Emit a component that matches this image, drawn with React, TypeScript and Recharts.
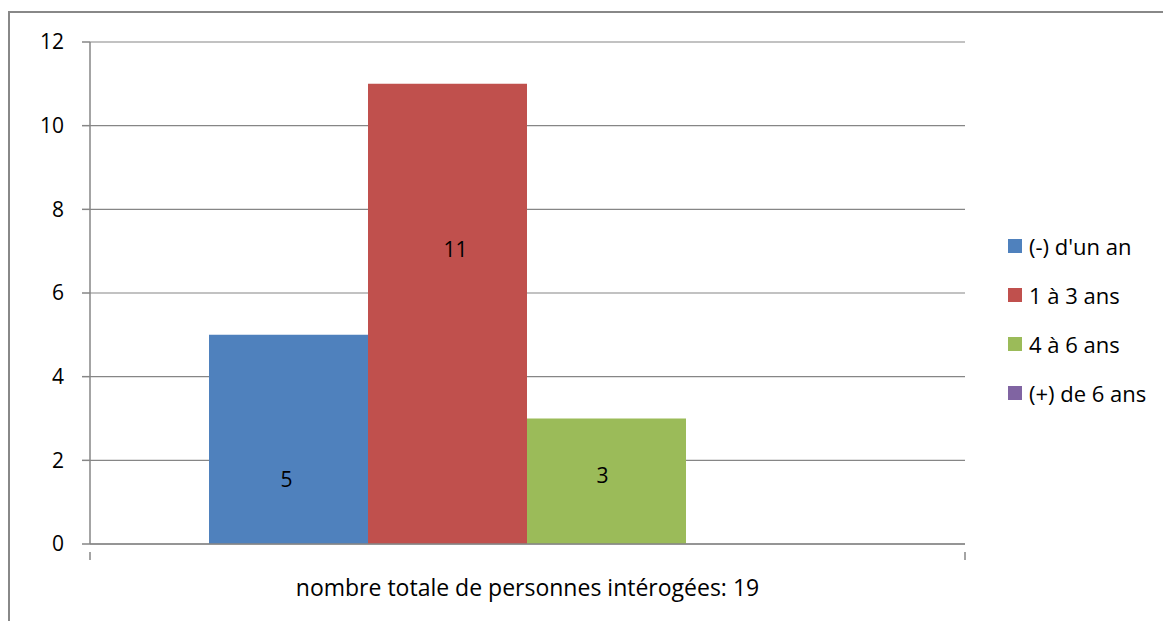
import { BarChart, Bar, XAxis, YAxis, CartesianGrid, LabelList } from "recharts";

// values
const categories = ["nombre totale de personnes intérogées: 19"];
const seriesNames = ["(-) d'un an", "1 à 3 ans", "4 à 6 ans", "(+) de 6 ans"];
const seriesValues = [5, 11, 3, 0];
const colors = ["#4F81BD", "#C0504D", "#9BBB59", "#8064A2"];
const yTicks = [0, 2, 4, 6, 8, 10, 12];

// small nudges so the value labels sit where Excel put them
const labelShift = [
  { dx: -2, dy: 40 },
  { dx: 8, dy: -64 },
  { dx: -4, dy: -6 },
  { dx: 0, dy: 0 },
];

const keys = seriesNames.map((_, i) => "s" + i);
const data = categories.map((name) => {
  const row: Record<string, string | number> = { name };
  keys.forEach((k, i) => (row[k] = seriesValues[i]));
  return row;
});

const FONT = "'Open Sans', Lato, sans-serif";
const FS = 21;
const FS_TEXT = 23;
const PLOT_W = 875;
const GRAY = "#868686";

const XTick = (props: any) => {
  const { x, y, payload } = props;
  return (
    <g>
      <line x1={x - PLOT_W / 2} x2={x - PLOT_W / 2} y1={y} y2={y + 8} stroke={GRAY} strokeWidth={1.5} />
      <line x1={x + PLOT_W / 2} x2={x + PLOT_W / 2} y1={y} y2={y + 8} stroke={GRAY} strokeWidth={1.5} />
      <text x={x} y={y + 44} textAnchor="middle" fontSize={FS_TEXT} fill="#000" fontFamily={FONT}>
        {payload.value}
      </text>
    </g>
  );
};

export default function App() {
  return (
    <div style={{ position: "relative", width: 1163, height: 613 }}>
      <div style={{ position: "absolute", left: 0, top: 0 }}>
        <BarChart
          width={1163}
          height={613}
          data={data}
          margin={{ top: 34, right: 206, left: 22, bottom: 69 }}
          barCategoryGap={119}
          barGap={0}
        >
          <CartesianGrid vertical={false} stroke={GRAY} strokeWidth={1.2} />
          <XAxis
            dataKey="name"
            tick={<XTick />}
            tickLine={false}
            height={8}
            axisLine={{ stroke: GRAY, strokeWidth: 1.5 }}
          />
          <YAxis
            domain={[0, 12]}
            ticks={yTicks}
            width={60}
            tickSize={8}
            tickMargin={18}
            interval={0}
            axisLine={{ stroke: GRAY, strokeWidth: 1.5 }}
            tickLine={{ stroke: GRAY, strokeWidth: 1.5 }}
            tick={{ fontSize: FS, fill: "#000", fontFamily: FONT }}
          />
          {/* frame of the chart area; only its top and left edges fall inside the picture */}
          <rect x={1} y={4} width={1300} height={800} fill="none" stroke="#888888" strokeWidth={2} />
          {keys.map((k, i) => (
            <Bar key={k} dataKey={k} name={seriesNames[i]} fill={colors[i]} isAnimationActive={false}>
              {seriesValues[i] > 0 && (
                <LabelList
                  dataKey={k}
                  position="center"
                  fill="#000"
                  fontSize={FS}
                  fontFamily={FONT}
                  dx={labelShift[i].dx}
                  dy={labelShift[i].dy}
                />
              )}
            </Bar>
          ))}
        </BarChart>
      </div>
      <div
        style={{
          position: "absolute",
          left: 1000,
          top: 213,
          fontFamily: FONT,
          fontSize: FS_TEXT - 1,
          color: "#000",
        }}
      >
        {seriesNames.map((n, i) => (
          <div key={n} style={{ display: "flex", alignItems: "center", height: 49 }}>
            <span style={{ width: 14, height: 14, background: colors[i], marginRight: 7, display: "inline-block" }} />
            <span>{n}</span>
          </div>
        ))}
      </div>
    </div>
  );
}
